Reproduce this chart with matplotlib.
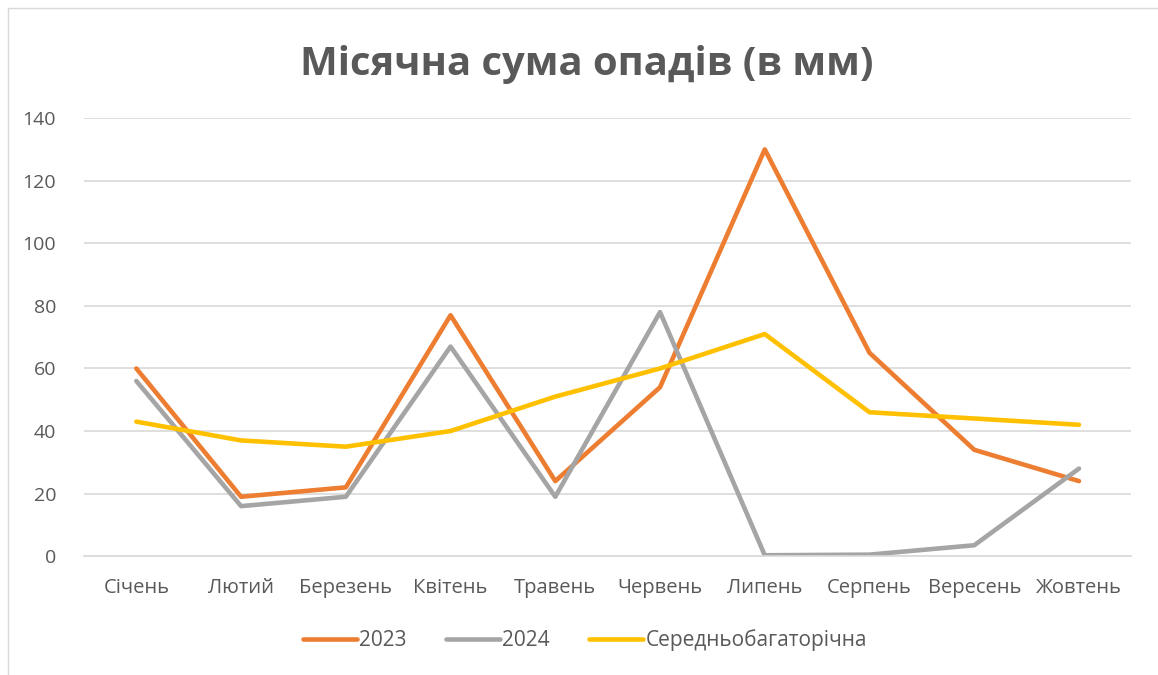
import matplotlib.pyplot as plt
from matplotlib.patches import Rectangle

plt.rcParams['font.family'] = ['Open Sans', 'DejaVu Sans']

months = ['Січень', 'Лютий', 'Березень', 'Квітень', 'Травень',
          'Червень', 'Липень', 'Серпень', 'Вересень', 'Жовтень']
rain_2023 = [60, 19, 22, 77, 24, 54, 130, 65, 34, 24]
rain_2024 = [56, 16, 19, 67, 19, 78, 0.3, 0.5, 3.5, 28]
rain_avg = [43, 37, 35, 40, 51, 60, 71, 46, 44, 42]

text_col = '#595959'

fig = plt.figure(figsize=(11.58, 6.75), dpi=100)
ax = fig.add_axes([0.0725, 0.176, 0.9045, 0.649])

x = range(len(months))
ax.plot(x, rain_2023, color='#ED7D31', lw=3.3, label='2023', solid_capstyle='round')
ax.plot(x, rain_2024, color='#A5A5A5', lw=3.3, label='2024', solid_capstyle='round')
ax.plot(x, rain_avg, color='#FFC000', lw=3.3, label='Середньобагаторічна', solid_capstyle='round')

ax.set_xlim(-0.5, len(months) - 0.5)
ax.set_ylim(0, 140)
ax.set_yticks(range(0, 141, 20))
ax.set_xticks(list(x))
ax.set_xticklabels(months)
ax.grid(axis='y', color='#D9D9D9', lw=1.2)
ax.set_axisbelow(True)
for s in ['top', 'right', 'left']:
    ax.spines[s].set_visible(False)
ax.spines['bottom'].set_color('#D9D9D9')
ax.spines['bottom'].set_linewidth(1.2)
ax.tick_params(length=0, colors=text_col)
ax.tick_params(axis='x', pad=16, labelsize=14.5)
ax.tick_params(axis='y', pad=20, labelsize=14)

fig.text(0.507, 0.905, 'Місячна сума опадів (в мм)', ha='center', va='center',
         fontsize=28.8, fontweight='bold', color=text_col)

fig.legend(loc='center', bbox_to_anchor=(0.505, 0.052), ncol=3, frameon=False,
           fontsize=15, handlelength=2.6, handletextpad=0.1, columnspacing=1.9,
           labelcolor=text_col)

fig.patches.append(Rectangle((0.007, -0.01), 1.0, 0.998, transform=fig.transFigure,
                             fill=False, edgecolor='#D9D9D9', lw=1))

fig.savefig('out.png', dpi=100)
